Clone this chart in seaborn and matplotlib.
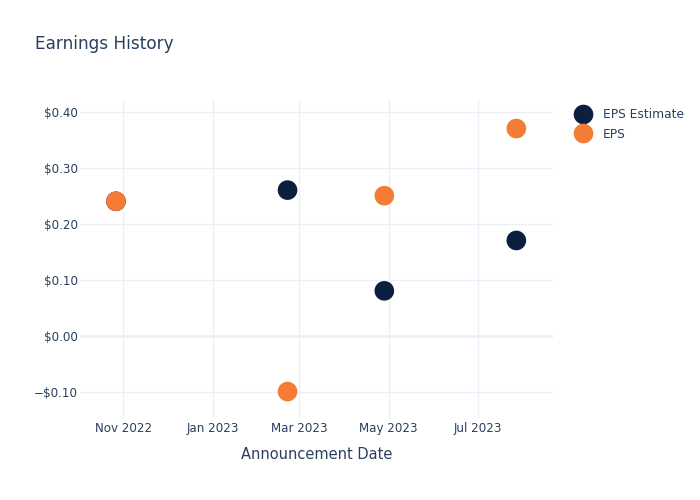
import matplotlib
matplotlib.use("Agg")
import matplotlib.pyplot as plt
import matplotlib.dates as mdates
from matplotlib.ticker import FuncFormatter, FixedLocator
import seaborn as sns
import pandas as pd

dates = ["2022-10-27", "2023-02-21", "2023-04-28", "2023-07-27"]
eps_estimate = [0.24, 0.26, 0.08, 0.17]
eps_actual = [0.24, -0.10, 0.25, 0.37]
series_names = ["EPS Estimate", "EPS"]
y_ticks = [-0.10, 0.00, 0.10, 0.20, 0.30, 0.40]

df = pd.DataFrame({
    "date": pd.to_datetime(dates * 2),
    "value": eps_estimate + eps_actual,
    "series": [series_names[0]] * len(dates) + [series_names[1]] * len(dates),
})

sns.set_theme(style="white")
plt.rcParams["font.family"] = ["DejaVu Sans"]
text_color = "#2a3f5f"
grid_color = "#ebf0f8"

fig = plt.figure(figsize=(7, 5), dpi=100)
ax = fig.add_axes([80 / 700, 1 - 419 / 500, (553 - 80) / 700, (419 - 100) / 500])

ax.set_xlim(pd.Timestamp("2022-10-02 12:00"), pd.Timestamp("2023-08-21"))
ax.set_ylim(-0.149, 0.421)

ax.yaxis.set_major_locator(FixedLocator(y_ticks))
ax.grid(True, color=grid_color, linewidth=1, zorder=0)
ax.axhline(0, color=grid_color, linewidth=2, zorder=0.5)

palette = {series_names[0]: "#0b1f41", series_names[1]: "#f57c35"}
sns.scatterplot(data=df, x="date", y="value", hue="series", hue_order=series_names,
                palette=palette, s=200, edgecolor=None, linewidth=0, ax=ax, zorder=3,
                legend=True)

ax.xaxis.set_major_locator(mdates.MonthLocator(bymonth=[1, 3, 5, 7, 9, 11]))
ax.xaxis.set_major_formatter(mdates.DateFormatter("%b %Y"))

def fmt(v, pos):
    if v < -1e-9:
        return "\u2212$%.2f" % abs(v)
    return "$%.2f" % abs(v)

ax.yaxis.set_major_formatter(FuncFormatter(fmt))
for s in ax.spines.values():
    s.set_visible(False)
ax.tick_params(axis="both", length=0, labelsize=8.6, colors=text_color)
ax.tick_params(axis="y", pad=1.5)
ax.tick_params(axis="x", pad=2.5)
ax.set_xlabel("Announcement Date", fontsize=10.5, color=text_color, labelpad=8)
ax.set_ylabel("")

leg = ax.legend(loc="upper left", bbox_to_anchor=(566 / 700, 1 - 103 / 500),
                bbox_transform=fig.transFigure, frameon=False, fontsize=8.8,
                handletextpad=0.6, labelspacing=0.55, markerscale=1.0,
                borderaxespad=0)
for t in leg.get_texts():
    t.set_color(text_color)
for h in leg.legend_handles:
    try:
        h.set_sizes([150])
    except Exception:
        pass

fig.text(35 / 700, 1 - 44 / 500, "Earnings History", fontsize=12.2, color=text_color,
         va="center", ha="left")

fig.savefig("out.png", dpi=100)
